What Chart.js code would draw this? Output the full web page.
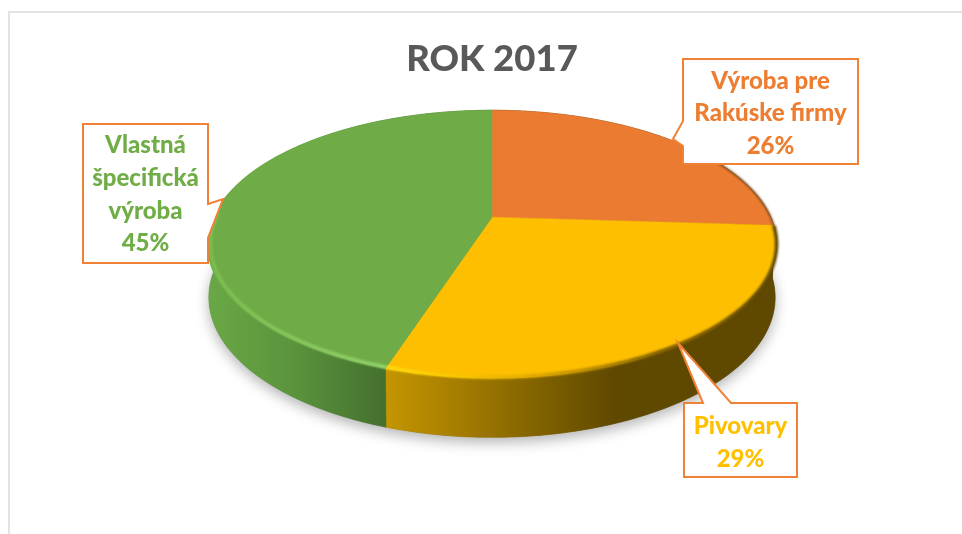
<!DOCTYPE html>
<html><head><meta charset="utf-8">
<style>html,body{margin:0;padding:0;background:#fff}canvas{display:block;filter:blur(0.35px)}</style>
<script src="https://cdn.jsdelivr.net/npm/chart.js@4"></script>
</head><body><canvas id="c" width="962" height="534"></canvas>
<script>
const chartTitle = "ROK 2017";
const categories = [["Výroba pre","Rakúske firmy"],["Pivovary"],["Vlastná","špecifická","výroba"]];
const shares = [26,29,45];
const topColors = ["#EB7B30","#FDBF00","#6FAC47"];
const labelColors = ["#ED7D31","#FFC000","#70AD47"];

// presentation only
const FONT = 'Lato, "Open Sans", sans-serif';
const xStretch = 2.115, yStretch = 0.975, persp = 0.2015;
const wallDrop = 52, wallGrow = 1.045, wallX = 0.995;
const wallStops = [
  [[0,"#6b3d14"],[1,"#6b3d14"]],
  [[0,"#5f4800"],[0.41,"#5f4800"],[1,"#C69600"]],
  [[0,"#6AA846"],[0.45,"#5C953D"],[1,"#44702E"]]
];
const rimStops = [
  [[0,"rgba(120,80,40,0.9)"],[1,"rgba(90,60,20,0.9)"]],
  [[0,"#5f4800"],[0.3,"#7a5c00"],[0.6,"#d9a400"],[0.8,"#F7C400"],[1,"#FFDC10"]],
  [[0,"#7CBE50"],[1,"#93D46C"]]
];
const callouts = [
  {box:[683,59,858,164], tip:[[683,146],[673,139],[683,121]], side:"left",  textY:113.5},
  {box:[684,403,797,477], tip:[[703,403],[678,343],[731,403]], side:"top", textY:443},
  {box:[83,124,208,263], tip:[[208,204],[223,199],[208,238]], side:"right", textY:194.5}
];

function project(el, a, r, drop, gx, gy){
  const u = Math.cos(a)*r, v = Math.sin(a)*r, w = 1 - persp*v;
  return [el.x + el.outerRadius*xStretch*(gx||1)*u/w,
          el.y + (drop||0) + el.outerRadius*yStretch*(gy||1)*v/w];
}
function arcPts(el, a0, a1, r, drop, gx, gy){
  const n = Math.max(2, Math.ceil(Math.abs(a1-a0)*60)), p=[];
  for(let i=0;i<=n;i++){
    const a = a0+(a1-a0)*i/n;
    p.push(project(el, a, typeof r==="function"?r(a):r, drop, gx, gy));
  }
  return p;
}
function trace(ctx, pts, cont){
  pts.forEach((p,i)=> (i||cont) ? ctx.lineTo(p[0],p[1]) : ctx.moveTo(p[0],p[1]));
}
function hGrad(ctx, stops, x0, x1){
  const g = ctx.createLinearGradient(x0,0,x1,0);
  stops.forEach(s=>g.addColorStop(s[0],s[1]));
  return g;
}

const pie3d = {
  id:"pie3d",
  beforeDraw(chart){
    const ctx = chart.ctx;
    ctx.save();
    ctx.fillStyle="#fff"; ctx.fillRect(0,0,chart.width,chart.height);
    ctx.strokeStyle="#e3e3e3"; ctx.lineWidth=2;
    ctx.beginPath(); ctx.moveTo(9,534); ctx.lineTo(9,12); ctx.lineTo(962,12); ctx.stroke();
    ctx.restore();
  },
  beforeDatasetsDraw(chart){
    const ctx = chart.ctx, arcs = chart.getDatasetMeta(0).data, c = arcs[0];
    const xL = c.x - c.outerRadius*xStretch*1.02;
    ctx.save();
    // soft shadow under the disc
    ctx.save();
    ctx.shadowColor="rgba(0,0,0,0.30)"; ctx.shadowBlur=14; ctx.shadowOffsetY=5;
    ctx.fillStyle="#777"; ctx.beginPath();
    trace(ctx, arcPts(c, 0, Math.PI*2, 1, wallDrop, wallX, wallGrow)); ctx.closePath(); ctx.fill();
    ctx.restore();
    // side wall
    arcs.forEach((el,i)=>{
      const a0=el.startAngle, a1=el.endAngle;
      ctx.beginPath();
      trace(ctx, arcPts(el,a0,a1,1));
      trace(ctx, arcPts(el,a1,a0,1,wallDrop,wallX,wallGrow), true);
      ctx.closePath();
      const grad = i===1 ? hGrad(ctx,wallStops[i],c.x+284,384)
                         : hGrad(ctx,wallStops[i],xL,386);
      ctx.fillStyle = grad; ctx.strokeStyle = grad; ctx.lineWidth=0.6;
      ctx.fill(); ctx.stroke();
    });
    // top face
    arcs.forEach((el,i)=>{
      ctx.beginPath();
      const o = project(el,0,0);
      ctx.moveTo(o[0],o[1]);
      trace(ctx, arcPts(el,el.startAngle,el.endAngle,1), true);
      ctx.closePath();
      ctx.fillStyle = topColors[i]; ctx.strokeStyle = topColors[i]; ctx.lineWidth=0.5;
      ctx.fill(); ctx.stroke();
    });
    // bevel rim on the top edge
    ctx.save();
    ctx.filter="blur(1.2px)"; ctx.lineCap="butt"; ctx.lineJoin="round";
    arcs.forEach((el,i)=>{
      const keep = a => Math.cos(a)>0 ? Math.sin(a)>-0.62 : Math.sin(a)>-0.04;
      let a0=el.startAngle, a1=el.endAngle;
      while(a0<a1 && !keep(a0)) a0+=0.005;
      while(a1>a0 && !keep(a1)) a1-=0.005;
      if(a1<=a0) return;
      ctx.beginPath();
      trace(ctx, arcPts(el,a0,a1,a=>0.995+0.005*Math.cos(a)));
      ctx.lineWidth = i===0 ? 1.6 : 3.6;
      ctx.strokeStyle = i===1 ? hGrad(ctx,rimStops[i],c.x+284,384) : hGrad(ctx,rimStops[i],xL,386);
      ctx.stroke();
    });
    ctx.restore();
    ctx.restore();
    return false;
  },
  afterDraw(chart){
    const ctx = chart.ctx, total = shares.reduce((a,b)=>a+b,0);
    callouts.forEach((cb,i)=>{
      const [x0,y0,x1,y1]=cb.box;
      ctx.save();
      ctx.beginPath();
      ctx.moveTo(x0,y0);
      if(cb.side==="top"){ cb.tip.forEach(p=>ctx.lineTo(p[0],p[1])); }
      ctx.lineTo(x1,y0);
      if(cb.side==="right"){ cb.tip.forEach(p=>ctx.lineTo(p[0],p[1])); }
      ctx.lineTo(x1,y1); ctx.lineTo(x0,y1);
      if(cb.side==="left"){ cb.tip.forEach(p=>ctx.lineTo(p[0],p[1])); }
      ctx.closePath();
      ctx.fillStyle="#fff"; ctx.fill();
      ctx.strokeStyle="#F08237"; ctx.lineWidth=2; ctx.lineJoin="miter"; ctx.stroke();
      const lines = categories[i].concat([Math.round(shares[i]/total*100)+"%"]);
      ctx.fillStyle=labelColors[i];
      ctx.font='900 24px '+FONT; ctx.textAlign="center"; ctx.textBaseline="middle";
      const lh=32.7, cx=(x0+x1)/2;
      lines.forEach((t,k)=>ctx.fillText(t,cx,cb.textY+(k-(lines.length-1)/2)*lh));
      ctx.restore();
    });
  }
};

new Chart(document.getElementById("c"),{
  type:"pie",
  data:{labels:categories,datasets:[{data:shares,backgroundColor:topColors,borderWidth:0}]},
  plugins:[pie3d],
  options:{
    responsive:false,animation:false,events:[],
    layout:{padding:{left:22,right:0,top:0,bottom:185}},
    plugins:{
      legend:{display:false},tooltip:{enabled:false},
      title:{display:true,text:chartTitle,color:"#595959",
        font:{family:FONT,size:36.5,weight:"900",lineHeight:1.2},
        padding:{top:37,bottom:4.6}}
    }
  }
});
</script></body></html>
